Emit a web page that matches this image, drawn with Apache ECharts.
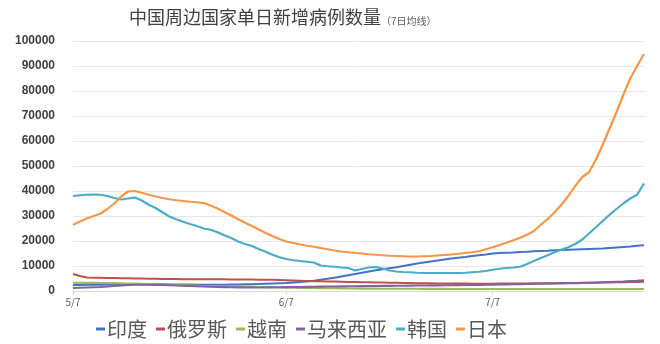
<!DOCTYPE html>
<html><head><meta charset="utf-8">
<script src="https://cdn.jsdelivr.net/npm/echarts@6/dist/echarts.min.js"></script>
<style>html,body{margin:0;padding:0;background:#fff}#c{width:660px;height:344px}</style>
</head><body><div id="c"></div>
<script>
var categories = [
'5/7','5/8','5/9','5/10','5/11','5/12','5/13','5/14','5/15','5/16','5/17','5/18','5/19','5/20','5/21','5/22','5/23','5/24','5/25','5/26','5/27','5/28','5/29','5/30','5/31',
'6/1','6/2','6/3','6/4','6/5','6/6','6/7','6/8','6/9','6/10','6/11','6/12','6/13','6/14','6/15','6/16','6/17','6/18','6/19','6/20','6/21','6/22','6/23','6/24','6/25','6/26','6/27','6/28','6/29','6/30',
'7/1','7/2','7/3','7/4','7/5','7/6','7/7','7/8','7/9','7/10','7/11','7/12','7/13','7/14','7/15','7/16','7/17','7/18','7/19','7/20','7/21','7/22','7/23','7/24','7/25','7/26','7/27','7/28','7/29'];
var shownLabels = ['5/7','6/7','7/7'];
var seriesNames = ['印度','俄罗斯','越南','马来西亚','韩国','日本'];
var india = [2400,2450,2500,2500,2550,2600,2600,2650,2650,2700,
2700,2700,2650,2650,2600,2600,2550,2550,2500,2500,
2500,2500,2500,2550,2600,2650,2700,2800,2900,3000,
3100,3200,3400,3600,3800,4100,4500,4900,5300,5800,
6300,6800,7300,7800,8300,8700,9100,9500,10000,10500,
11000,11400,11800,12200,12600,13000,13300,13600,14000,14300,
14600,15000,15200,15300,15400,15600,15700,15900,16000,16100,
16300,16400,16500,16600,16700,16800,16900,17000,17200,17400,
17600,17800,18100,18300];
var russia = [6800,6000,5400,5300,5300,5200,5200,5100,5100,5000,
5000,4900,4900,4800,4800,4800,4700,4700,4700,4700,
4700,4700,4700,4600,4600,4600,4600,4500,4500,4500,
4400,4300,4200,4100,4000,3900,3900,3800,3800,3700,
3600,3600,3500,3500,3400,3400,3300,3300,3200,3200,
3100,3100,3100,3000,3000,3000,3000,3000,2900,2900,
2900,2900,3000,3000,3000,3000,3000,3100,3100,3100,
3100,3200,3200,3200,3300,3300,3300,3400,3400,3500,
3500,3600,3600,3700];
var vietnam = [3300,3300,3250,3250,3200,3200,3150,3100,3000,2950,
2900,2800,2700,2600,2500,2400,2300,2200,2100,2000,
1950,1900,1850,1800,1750,1700,1650,1600,1500,1450,
1400,1350,1300,1250,1200,1200,1150,1100,1100,1050,
1000,1000,950,950,950,900,900,900,900,900,
900,850,850,850,850,800,800,800,800,800,
800,800,800,800,800,800,800,800,800,800,
800,800,800,800,800,800,800,800,800,800,
800,800,800,800];
var malaysia = [1200,1300,1400,1500,1600,1800,2000,2200,2400,2500,
2500,2500,2450,2400,2300,2200,2100,2000,1900,1800,
1700,1600,1550,1500,1450,1400,1400,1400,1450,1500,
1500,1550,1600,1600,1650,1700,1750,1800,1800,1850,
1900,1900,1950,2000,2000,2050,2050,2100,2100,2150,
2200,2200,2250,2250,2300,2300,2350,2400,2400,2450,
2500,2550,2600,2650,2700,2750,2800,2850,2900,2950,
3000,3050,3100,3150,3200,3300,3400,3500,3600,3700,
3800,3950,4100,4300];
var korea = [38000,38300,38500,38600,38500,38000,37200,36600,37000,37400,
36200,34500,33200,31500,29800,28700,27700,26800,26000,25000,
24500,23500,22300,21200,19800,18800,18000,16800,15700,14500,
13500,12800,12300,12000,11700,11400,10200,9900,9700,9400,
9200,8200,8800,9400,9600,9000,8200,7800,7600,7500,
7300,7200,7200,7200,7200,7200,7200,7300,7500,7700,
8000,8500,8900,9200,9400,9700,10800,12000,13200,14300,
15500,16600,17500,18800,20500,23000,25500,28000,30500,32800,
35000,37000,38500,43000];
var japan = [26500,27800,29000,30000,31000,32800,35000,37800,39800,40000,
39300,38500,37800,37200,36700,36300,36000,35700,35500,35200,
34200,33000,31600,30200,28700,27300,26000,24600,23200,22000,
20800,19800,19200,18600,18100,17700,17200,16700,16200,15800,
15500,15200,15000,14700,14500,14300,14100,14000,13900,13800,
13800,13900,14000,14200,14400,14600,14900,15200,15500,15900,
16700,17500,18400,19300,20300,21300,22500,24000,26500,28800,
31500,34500,38000,42000,45500,47500,52500,58500,65000,71500,
78500,85000,90000,94800];
var colors = ['#4472C4','#C0504D','#9BBB59','#8064A2','#4BACC6','#F79646'];
var values = [india, russia, vietnam, malaysia, korea, japan];

var chart = echarts.init(document.getElementById('c'));
var FONT = '"Noto Sans CJK SC", "Liberation Sans", sans-serif';
chart.setOption({
  animation: false,
  color: colors,
  textStyle: {fontFamily: FONT},
  title: {
    text: '{a|中国周边国家单日新增病例数量}{b|（7日均线）}',
    left: 124, top: 3,
    textStyle: {rich: {
      a: {fontSize: 18, color: '#404040', fontWeight: 'normal', fontFamily: FONT},
      b: {fontSize: 10, color: '#595959', fontWeight: 'normal', fontFamily: FONT, verticalAlign: 'bottom', padding: [5,0,0,0]}
    }}
  },
  legend: {
    left: 91, top: 314,
    icon: 'rect', itemWidth: 9, itemHeight: 3, itemGap: 9,
    textStyle: {fontSize: 20, color: '#595959', fontFamily: FONT, padding: [0,0,0,-3]},
    data: seriesNames
  },
  grid: {left: 73, right: 16, top: 41, bottom: 53},
  xAxis: {
    type: 'category', boundaryGap: false, data: categories,
    axisLine: {lineStyle: {color: '#D9D9D9'}},
    axisTick: {show: true, length: 4, lineStyle: {color: '#D9D9D9'},
      interval: function(i, v){ return shownLabels.indexOf(v) >= 0; }},
    axisLabel: {fontSize: 10, color: '#595959', margin: 6,
      interval: function(i, v){ return shownLabels.indexOf(v) >= 0; }}
  },
  yAxis: {
    type: 'value', min: 0, max: 100000, interval: 10000,
    axisLine: {show: false}, axisTick: {show: false},
    axisLabel: {fontSize: 12, fontWeight: 'bold', color: '#404040', margin: 18,
      fontFamily: '"Liberation Sans", sans-serif',
      formatter: function(v){ return String(v); }},
    splitLine: {lineStyle: {color: '#E8E8E8'}}
  },
  series: seriesNames.map(function(n, k){
    return {name: n, type: 'line', data: values[k], showSymbol: false, symbol: 'none',
      lineStyle: {width: 2.2, color: colors[k]}, itemStyle: {color: colors[k]}};
  })
});
</script></body></html>
